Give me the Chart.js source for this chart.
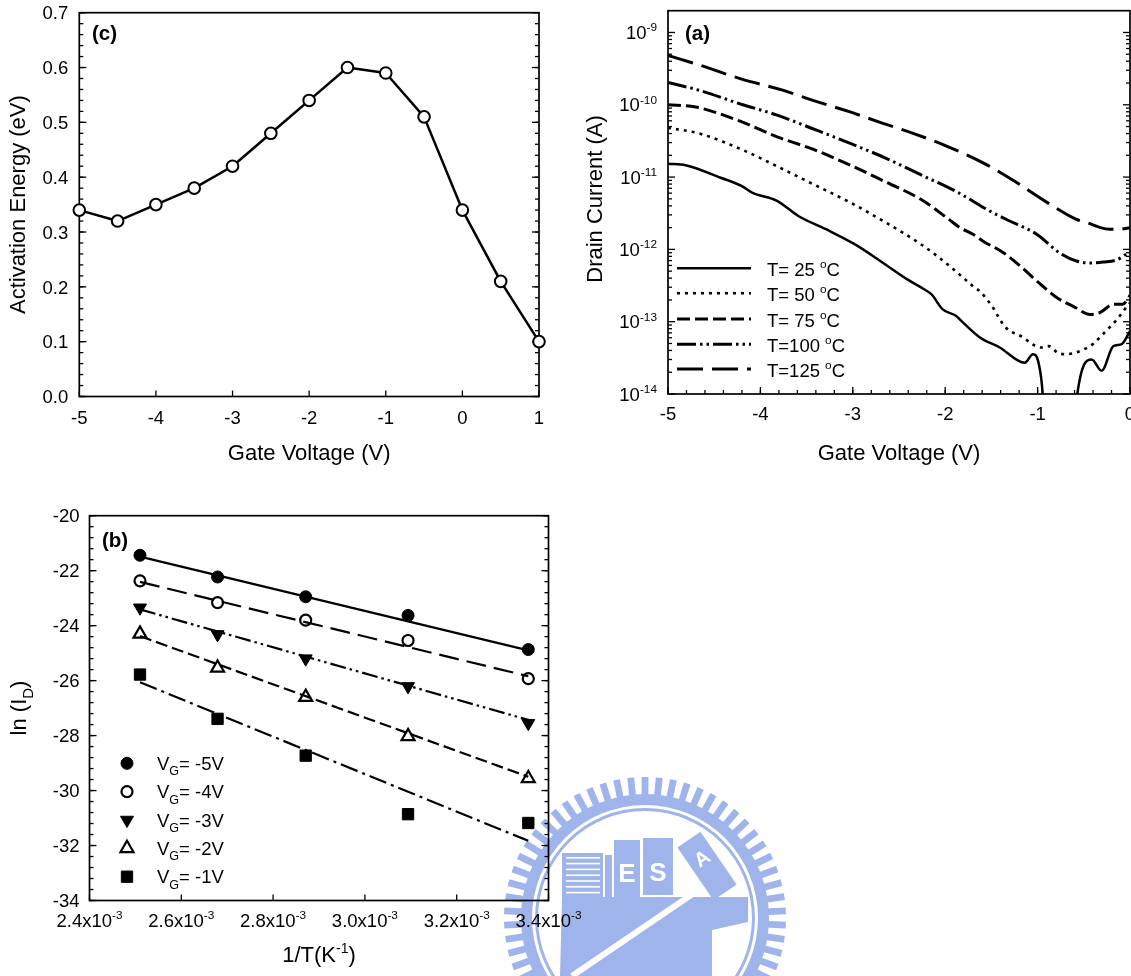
<!DOCTYPE html>
<html>
<head>
<meta charset="utf-8">
<title>Activation energy, drain current and Arrhenius plots</title>
<script src="https://cdn.jsdelivr.net/npm/chart.js@4.4.1/dist/chart.umd.min.js"></script>
<style>
html, body { margin:0; padding:0; background:#ffffff; width:1131px; height:976px; overflow:hidden; position:relative; }
canvas { position:absolute; }
</style>
</head>
<body>
<canvas id="wm" width="1131" height="976" style="left:0;top:0;"></canvas>
<canvas id="panelC" width="570" height="490" style="left:0;top:0;"></canvas>
<canvas id="panelA" width="565" height="490" style="left:580px;top:0;"></canvas>
<canvas id="panelB" width="600" height="486" style="left:0;top:490px;"></canvas>
<script>
// ---------------- DATA ----------------
// Panel (c): activation energy vs gate voltage
const vgC = [-5, -4.5, -4, -3.5, -3, -2.5, -2, -1.5, -1, -0.5, 0, 0.5, 1];
const eaC = [0.34, 0.32, 0.35, 0.38, 0.42, 0.48, 0.54, 0.60, 0.59, 0.51, 0.34, 0.21, 0.10];
const cXTicks = [-5, -4, -3, -2, -1, 0, 1];
const cYTicks = [0, 0.1, 0.2, 0.3, 0.4, 0.5, 0.6, 0.7];
const cYTickLabels = ['0.0', '0.1', '0.2', '0.3', '0.4', '0.5', '0.6', '0.7'];

// Panel (a): drain current vs gate voltage (log scale)
const vg25 = [-5, -4.81, -4.43, -4.2, -4.09, -3.82, -3.59, -3.29, -2.98, -2.68, -2.41, -2.22, -2.15, -2.03, -1.88, -1.84, -1.62, -1.41, -1.14, -1.05, -0.99, -0.945, -0.92, -0.6, -0.57, -0.415, -0.307, -0.18, -0.09, 0];
const id25 = [1.53e-11, 1.46e-11, 9.8e-12, 7.5e-12, 6.1e-12, 4.7e-12, 2.9e-12, 1.9e-12, 1.18e-12, 6.6e-13, 3.85e-13, 2.77e-13, 2.4e-13, 1.49e-13, 1.2e-13, 1.07e-13, 6.0e-14, 4.4e-14, 2.7e-14, 3.55e-14, 2.7e-14, 1.0e-14, 2e-15, 2e-15, 1.0e-14, 3.0e-14, 2.1e-14, 4.6e-14, 4.9e-14, 7.4e-14];
const vg50 = [-5, -4.66, -4.2, -3.82, -3.44, -3.02, -2.64, -2.26, -1.96, -1.79, -1.70, -1.62, -1.55, -1.48, -1.43, -1.37, -1.30, -1.23, -1.15, -1.06, -0.97, -0.88, -0.78, -0.69, -0.60, -0.49, -0.40, -0.33, -0.24, -0.14, -0.07, 0];
const id50 = [4.8e-11, 4.0e-11, 2.4e-11, 1.41e-11, 8.1e-12, 4.4e-12, 2.34e-12, 1.17e-12, 6.0e-13, 3.9e-13, 3.1e-13, 2.6e-13, 2.04e-13, 1.55e-13, 1.2e-13, 9.1e-14, 7.4e-14, 6.8e-14, 6.0e-14, 4.9e-14, 4.4e-14, 4.6e-14, 3.7e-14, 3.55e-14, 3.7e-14, 4.2e-14, 4.9e-14, 6.0e-14, 7.9e-14, 1.07e-13, 1.41e-13, 1.82e-13];
const vg75 = [-5, -4.7, -4.2, -3.82, -3.44, -3.02, -2.64, -2.26, -1.96, -1.84, -1.70, -1.59, -1.37, -1.19, -0.97, -0.79, -0.61, -0.43, -0.32, -0.18, -0.08, 0];
const id75 = [1.0e-10, 9.3e-11, 5.8e-11, 3.6e-11, 2.45e-11, 1.45e-11, 8.5e-12, 4.9e-12, 2.6e-12, 2.0e-12, 1.62e-12, 1.3e-12, 9.0e-13, 5.9e-13, 3.3e-13, 2.14e-13, 1.62e-13, 1.26e-13, 1.35e-13, 1.74e-13, 1.74e-13, 2.3e-13];
const vg100 = [-5, -4.66, -4.2, -3.82, -3.44, -3.02, -2.64, -2.26, -1.88, -1.50, -1.33, -1.01, -0.76, -0.58, -0.43, -0.29, -0.14, 0];
const id100 = [2.04e-10, 1.58e-10, 1.01e-10, 7.2e-11, 4.7e-11, 2.9e-11, 1.82e-11, 1.07e-11, 6.3e-12, 3.3e-12, 2.57e-12, 1.62e-12, 8.9e-13, 6.9e-13, 6.5e-13, 6.7e-13, 7.2e-13, 9.3e-13];
const vg125 = [-5, -4.66, -4.22, -3.75, -3.44, -3.02, -2.72, -2.34, -1.96, -1.58, -1.27, -0.89, -0.58, -0.47, -0.32, -0.22, -0.11, 0];
const id125 = [4.8e-10, 3.55e-10, 2.3e-10, 1.58e-10, 1.16e-10, 7.9e-11, 5.8e-11, 4.0e-11, 2.6e-11, 1.55e-11, 9.1e-12, 4.4e-12, 2.6e-12, 2.35e-12, 2.0e-12, 1.9e-12, 1.9e-12, 2.0e-12];
const aTempLabels = ['T= 25 ', 'T= 50 ', 'T= 75 ', 'T=100 ', 'T=125 '];
const aXTicks = [-5, -4, -3, -2, -1, 0];
const aYTicks = [1e-14, 1e-13, 1e-12, 1e-11, 1e-10, 1e-9];
const aYExponents = ['-14', '-13', '-12', '-11', '-10', '-9'];

// Panel (b): ln(I_D) vs 1/T
const invT = [2.510e-3, 2.679e-3, 2.871e-3, 3.094e-3, 3.356e-3];
const lnVg5 = [-21.44, -22.23, -22.95, -23.63, -24.87];
const lnVg4 = [-22.37, -23.16, -23.80, -24.54, -25.93];
const lnVg3 = [-23.35, -24.32, -25.20, -26.21, -27.55];
const lnVg2 = [-24.30, -25.54, -26.60, -28.03, -29.56];
const lnVg1 = [-25.78, -27.39, -28.73, -30.86, -31.18];
const fitX = [2.510e-3, 3.356e-3];
const fitVg5 = [-21.49, -24.90];
const fitVg4 = [-22.41, -25.84];
const fitVg3 = [-23.41, -27.43];
const fitVg2 = [-24.38, -29.50];
const fitVg1 = [-26.06, -31.83];
const bLegendLabels = ['= -5V', '= -4V', '= -3V', '= -2V', '= -1V'];
const bXTicks = [2.4e-3, 2.6e-3, 2.8e-3, 3.0e-3, 3.2e-3, 3.4e-3];
const bXTickMantissa = ['2.4', '2.6', '2.8', '3.0', '3.2', '3.4'];
const bYTicks = [-34, -32, -30, -28, -26, -24, -22, -20];

// ---------------- STYLE ----------------
const FONT = '"Liberation Sans", Arial, Helvetica, sans-serif';
const TICK = 18.5, TITLE = 22, LEG = 18.5, LETTER = 20.5;

function fontStr(size, bold) { return (bold ? 'bold ' : '') + size.toFixed(2) + 'px ' + FONT; }
function drawRich(ctx, parts, x, y, align, size, bold) {
  const sizes = parts.map(p => p.s === 'sup' ? size * 0.64 : p.s === 'sub' ? size * 0.68 : size);
  const widths = parts.map((p, i) => { ctx.font = fontStr(sizes[i], bold); return ctx.measureText(p.t).width; });
  const total = widths.reduce((a, b) => a + b, 0);
  let cx = align === 'center' ? x - total / 2 : align === 'right' ? x - total : x;
  ctx.textAlign = 'left';
  ctx.textBaseline = 'alphabetic';
  parts.forEach((p, i) => {
    ctx.font = fontStr(sizes[i], bold);
    const dy = p.s === 'sup' ? -size * 0.42 : p.s === 'sub' ? size * 0.28 : 0;
    ctx.fillText(p.t, cx, y + dy);
    cx += widths[i];
  });
}
function steps(start, end, step) {
  const out = [], n = Math.round((end - start) / step);
  for (let i = 0; i <= n; i++) out.push(start + i * step);
  return out;
}
function logMinors(lo, hi) {
  const out = [];
  for (let e = lo; e < hi; e++) for (let k = 2; k <= 9; k++) out.push(k * Math.pow(10, e));
  return out;
}
function drawMarker(ctx, m, x, y) {
  ctx.save();
  ctx.beginPath();
  if (m.style === 'circle') {
    ctx.arc(x, y, m.r, 0, Math.PI * 2);
  } else if (m.style === 'triangle') {
    let rad = (m.rot || 0) * Math.PI / 180;
    for (let k = 0; k < 3; k++) {
      const px = x + Math.sin(rad) * m.r, py = y - Math.cos(rad) * m.r;
      if (k === 0) ctx.moveTo(px, py); else ctx.lineTo(px, py);
      rad += Math.PI * 2 / 3;
    }
    ctx.closePath();
  } else {
    const s = Math.SQRT1_2 * m.r;
    ctx.rect(x - s, y - s, 2 * s, 2 * s);
  }
  ctx.fillStyle = m.fill;
  ctx.fill();
  ctx.lineWidth = m.bw;
  ctx.strokeStyle = '#000';
  ctx.stroke();
  ctx.restore();
}

const DECOR = {};
const decorPlugin = {
  id: 'decor',
  beforeDatasetsDraw(chart) {
    const cfg = DECOR[chart.canvas.id]; if (!cfg) return;
    const ctx = chart.ctx, a = chart.chartArea;
    ctx.save();
    ctx.strokeStyle = '#000';
    ctx.lineWidth = 1.3;
    cfg.ticks.forEach(t => {
      const sc = chart.scales[t.axis];
      t.values.forEach(v => {
        const p = sc.getPixelForValue(v);
        t.sides.forEach(side => {
          ctx.beginPath();
          if (side === 'left') { ctx.moveTo(a.left, p); ctx.lineTo(a.left + t.len, p); }
          else if (side === 'right') { ctx.moveTo(a.right, p); ctx.lineTo(a.right - t.len, p); }
          else if (side === 'bottom') { ctx.moveTo(p, a.bottom); ctx.lineTo(p, a.bottom - t.len); }
          else { ctx.moveTo(p, a.top); ctx.lineTo(p, a.top + t.len); }
          ctx.stroke();
        });
      });
    });
    ctx.lineWidth = 1.7;
    ctx.strokeRect(a.left, a.top, a.right - a.left, a.bottom - a.top);
    ctx.restore();
  },
  afterDraw(chart) {
    const cfg = DECOR[chart.canvas.id]; if (!cfg) return;
    const ctx = chart.ctx, a = chart.chartArea;
    const xs = chart.scales.x, ys = chart.scales.y;
    ctx.save();
    ctx.fillStyle = '#000';
    cfg.xLabels.forEach(l => drawRich(ctx, l.parts, xs.getPixelForValue(l.v), a.bottom + cfg.xLabelGap + 0.36 * TICK, 'center', TICK));
    cfg.yLabels.forEach(l => drawRich(ctx, l.parts, a.left - cfg.yLabelGap, ys.getPixelForValue(l.v) + 0.36 * TICK, 'right', TICK));
    drawRich(ctx, cfg.xTitle.parts, (a.left + a.right) / 2, cfg.xTitle.y + 0.27 * TITLE, 'center', TITLE);
    ctx.save();
    ctx.translate(cfg.yTitle.x, cfg.yTitle.y);
    ctx.rotate(-Math.PI / 2);
    drawRich(ctx, cfg.yTitle.parts, 0, 0.27 * TITLE, 'center', TITLE);
    ctx.restore();
    drawRich(ctx, [{ t: cfg.letter.t }], cfg.letter.x, cfg.letter.y + 0.27 * LETTER, 'left', LETTER, true);
    if (cfg.legend) cfg.legend(ctx, chart);
    ctx.restore();
  }
};

function axis(type, min, max, fit) {
  return {
    type, min, max, display: true,
    ticks: { display: false },
    grid: { display: false, drawTicks: false },
    border: { display: false },
    title: { display: false },
    afterFit: fit
  };
}
function baseOptions(padding, scales) {
  return {
    responsive: false, animation: false, devicePixelRatio: 1, events: [],
    layout: { padding },
    plugins: { legend: { display: false }, tooltip: { enabled: false }, title: { display: false } },
    scales
  };
}
function pts(xs, ys) { return xs.map((x, i) => ({ x, y: ys[i] })); }

// ---------------- PANEL (c) ----------------
DECOR.panelC = {
  ticks: [
    { axis: 'y', sides: ['left', 'right'], values: steps(0, 0.7, 0.02), len: 4 },
    { axis: 'y', sides: ['left', 'right'], values: cYTicks, len: 7 },
    { axis: 'x', sides: ['bottom'], values: cXTicks, len: 6 }
  ],
  xLabels: cXTicks.map(v => ({ v, parts: [{ t: String(v) }] })),
  yLabels: cYTicks.map((v, i) => ({ v, parts: [{ t: cYTickLabels[i] }] })),
  xLabelGap: 20.5, yLabelGap: 11,
  xTitle: { parts: [{ t: 'Gate Voltage (V)' }], y: 454 },
  yTitle: { parts: [{ t: 'Activation Energy (eV)' }], x: 19, y: 204.6 },
  letter: { t: '(c)', x: 92, y: 34 }
};
new Chart(document.getElementById('panelC'), {
  type: 'line',
  data: { datasets: [{
    data: pts(vgC, eaC), borderColor: '#000', borderWidth: 2.5, borderJoinStyle: 'round',
    pointRadius: 5.8, pointBorderWidth: 2, pointBackgroundColor: '#fff', pointBorderColor: '#000',
    tension: 0, clip: false
  }] },
  options: baseOptions({ left: 0, top: 12.7, right: 570 - 539, bottom: 0 }, {
    x: axis('linear', -5, 1, s => { s.height = 490 - 396.5; }),
    y: axis('linear', 0, 0.7, s => { s.width = 79.3; })
  }),
  plugins: [decorPlugin]
});

// ---------------- PANEL (a) ----------------
const aStyles = [
  { dash: [], w: 2.5 },
  { dash: [3, 5], w: 2.6 },
  { dash: [13, 5], w: 3 },
  { dash: [19, 4, 2.5, 4, 2.5, 4], w: 3 },
  { dash: [26, 9], w: 3 }
];
const aSeries = [pts(vg25, id25), pts(vg50, id50), pts(vg75, id75), pts(vg100, id100), pts(vg125, id125)];
DECOR.panelA = {
  ticks: [
    { axis: 'y', sides: ['left', 'right'], values: logMinors(-14, -9), len: 4 },
    { axis: 'y', sides: ['left', 'right'], values: aYTicks, len: 7 },
    { axis: 'x', sides: ['bottom'], values: steps(-5, 0, 0.2), len: 4 },
    { axis: 'x', sides: ['bottom'], values: aXTicks, len: 7 }
  ],
  xLabels: aXTicks.map(v => ({ v, parts: [{ t: String(v) }] })),
  yLabels: aYTicks.map((v, i) => ({ v, parts: [{ t: '10' }, { t: aYExponents[i], s: 'sup' }] })),
  xLabelGap: 19.5, yLabelGap: 11,
  xTitle: { parts: [{ t: 'Gate Voltage (V)' }], y: 454 },
  yTitle: { parts: [{ t: 'Drain Current (A)' }], x: 16.5, y: 199 },
  letter: { t: '(a)', x: 105, y: 34 },
  legend(ctx, chart) {
    const rows = [268.3, 293.3, 319, 344.3, 369];
    chart.data.datasets.forEach((ds, i) => {
      ctx.save();
      ctx.strokeStyle = '#000';
      ctx.lineWidth = ds.borderWidth;
      ctx.setLineDash(ds.borderDash);
      ctx.beginPath(); ctx.moveTo(97, rows[i]); ctx.lineTo(171, rows[i]); ctx.stroke();
      ctx.restore();
      drawRich(ctx, [{ t: aTempLabels[i] }, { t: 'o', s: 'sup' }, { t: 'C' }], 187, rows[i] + 1 + 0.36 * LEG, 'left', LEG);
    });
  }
};
new Chart(document.getElementById('panelA'), {
  type: 'line',
  data: { datasets: aSeries.map((d, i) => ({
    data: d, borderColor: '#000', borderWidth: aStyles[i].w, borderDash: aStyles[i].dash,
    pointRadius: 0, cubicInterpolationMode: 'monotone', fill: false
  })) },
  options: baseOptions({ left: 0, top: 10.7, right: 15, bottom: 0 }, {
    x: axis('linear', -5, 0, s => { s.height = 490 - 394; }),
    y: axis('logarithmic', 1e-14, 2e-9, s => { s.width = 88; })
  }),
  plugins: [decorPlugin]
});

// ---------------- PANEL (b) ----------------
const bPoints = [lnVg5, lnVg4, lnVg3, lnVg2, lnVg1];
const bFits = [fitVg5, fitVg4, fitVg3, fitVg2, fitVg1];
const bMarkers = [
  { style: 'circle', r: 6, fill: '#000', bw: 1, rot: 0 },
  { style: 'circle', r: 5.5, fill: '#fff', bw: 2.2, rot: 0 },
  { style: 'triangle', r: 7.5, fill: '#000', bw: 1, rot: 180 },
  { style: 'triangle', r: 7.5, fill: '#fff', bw: 2.2, rot: 0 },
  { style: 'rect', r: 8, fill: '#000', bw: 1, rot: 0 }
];
const bDashes = [[], [20, 8], [16, 4, 2.5, 4, 2.5, 4], [12, 5], [18, 5, 3, 5]];
const bDatasets = [];
bFits.forEach((f, i) => bDatasets.push({
  data: pts(fitX, f), borderColor: '#000', borderWidth: 2.2, borderDash: bDashes[i],
  pointRadius: 0, showLine: true, tension: 0, clip: false
}));
bPoints.forEach((p, i) => bDatasets.push({
  data: pts(invT, p), showLine: false, pointStyle: bMarkers[i].style, pointRadius: bMarkers[i].r,
  pointRotation: bMarkers[i].rot, pointBackgroundColor: bMarkers[i].fill, pointBorderColor: '#000',
  pointBorderWidth: bMarkers[i].bw, clip: false
}));
DECOR.panelB = {
  ticks: [
    { axis: 'y', sides: ['left', 'right'], values: steps(-34, -20, 0.4), len: 4 },
    { axis: 'y', sides: ['left', 'right'], values: bYTicks, len: 7 },
    { axis: 'x', sides: ['bottom'], values: bXTicks, len: 6 }
  ],
  xLabels: bXTicks.map((v, i) => ({ v, parts: [{ t: bXTickMantissa[i] + 'x10' }, { t: '-3', s: 'sup' }] })),
  yLabels: bYTicks.map(v => ({ v, parts: [{ t: String(v) }] })),
  xLabelGap: 20, yLabelGap: 10,
  xTitle: { parts: [{ t: '1/T(K' }, { t: '-1', s: 'sup' }, { t: ')' }], y: 466 },
  yTitle: { parts: [{ t: 'ln (I' }, { t: 'D', s: 'sub' }, { t: ')' }], x: 20.5, y: 218 },
  letter: { t: '(b)', x: 102, y: 51.7 },
  legend(ctx) {
    const rows = [273.3, 301.7, 330, 358.3, 386.7];
    rows.forEach((y, i) => {
      drawMarker(ctx, bMarkers[i], 127, y);
      ctx.fillStyle = '#000';
      drawRich(ctx, [{ t: 'V' }, { t: 'G', s: 'sub' }, { t: bLegendLabels[i] }], 157, y + 0.36 * LEG, 'left', LEG);
    });
  }
};
new Chart(document.getElementById('panelB'), {
  type: 'line',
  data: { datasets: bDatasets },
  options: baseOptions({ left: 0, top: 25.7, right: 600 - 548.5, bottom: 0 }, {
    x: axis('linear', 2.4e-3, 3.4e-3, s => { s.height = 486 - 410.5; }),
    y: axis('linear', -34, -20, s => { s.width = 89.5; })
  }),
  plugins: [decorPlugin]
});

// ---------------- watermark seal (decoration behind panel b) ----------------
(function drawWatermark() {
  const c = document.getElementById('wm').getContext('2d');
  const cx = 645, cy = 918, col = '#a0b4ec';
  c.fillStyle = col;
  const n = 62;
  for (let i = 0; i < n; i++) {
    c.save(); c.translate(cx, cy); c.rotate(i / n * Math.PI * 2);
    c.fillRect(-3.4, -141, 6.8, 22);
    c.restore();
  }
  c.beginPath(); c.arc(cx, cy, 124, 0, Math.PI * 2); c.arc(cx, cy, 113, 0, Math.PI * 2, true); c.fill();
  c.beginPath(); c.arc(cx, cy, 110, 0, Math.PI * 2); c.arc(cx, cy, 107, 0, Math.PI * 2, true); c.fill();
  // striped building
  c.fillRect(562, 853, 41, 44);
  c.fillStyle = '#fff';
  for (let k = 0; k < 7; k++) c.fillRect(566, 857 + k * 5.8, 34, 1.6);
  c.fillStyle = col;
  c.fillRect(605, 855, 7, 42);
  c.fillRect(614, 840, 26, 57);
  c.fillRect(643, 838, 30, 57);
  c.save(); c.translate(707, 866); c.rotate(-0.6); c.fillRect(-14, -32, 28, 64);
  c.fillStyle = '#fff'; c.font = 'bold 20px ' + FONT; c.textAlign = 'center'; c.textBaseline = 'middle';
  c.fillText('A', 0, -8); c.restore();
  c.fillStyle = '#fff'; c.font = 'bold 26px ' + FONT; c.textAlign = 'center'; c.textBaseline = 'middle';
  c.fillText('E', 627, 875); c.fillText('S', 658, 874);
  c.fillStyle = col;
  c.beginPath();
  c.moveTo(562, 897); c.lineTo(748, 897); c.lineTo(748, 922); c.lineTo(712, 930); c.lineTo(712, 976);
  c.lineTo(560, 976); c.closePath(); c.fill();
  c.strokeStyle = '#fff'; c.lineWidth = 6;
  c.beginPath(); c.moveTo(572, 976); c.lineTo(694, 893); c.stroke();
})();
</script>
</body>
</html>
